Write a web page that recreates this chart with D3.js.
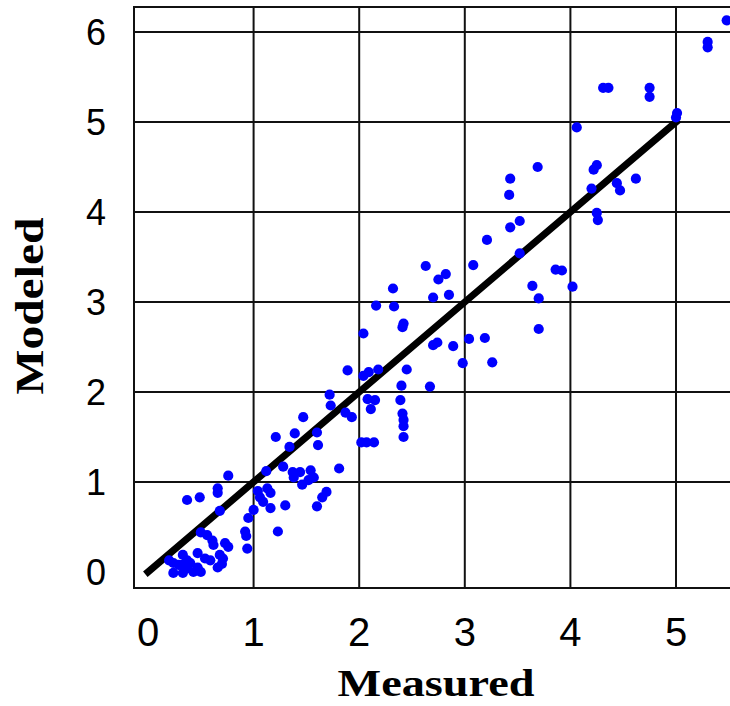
<!DOCTYPE html>
<html><head><meta charset="utf-8">
<script src="https://cdn.jsdelivr.net/npm/d3@7"></script>
<style>html,body{margin:0;padding:0;background:#fff;overflow:hidden}</style>
</head><body>
<svg id="chart" width="730" height="706"></svg>
<script>
// ---- data ----
const measured = [5.48,5.30,5.30,4.31,4.36,4.75,4.75,5.01,5.00,4.06,
3.69,3.43,3.42,4.25,4.22,4.20,4.44,4.47,4.62,4.25,
4.26,3.52,3.43,3.21,3.52,2.63,3.08,2.82,2.75,2.70,
2.85,3.86,3.92,3.64,4.02,3.70,3.70,2.70,2.74,2.89,
3.04,3.19,2.98,3.26,2.67,
2.32,2.16,2.33,2.42,2.41,2.04,1.89,2.04,2.09,2.18,
2.45,2.40,1.72,2.08,2.15,1.73,2.39,2.11,1.87,1.93,
2.41,2.42,2.42,2.42,1.47,1.39,1.60,1.34,1.61,2.02,
2.07,2.14,1.28,1.81,1.21,
1.37,1.38,1.44,1.54,1.57,1.52,1.46,1.12,1.69,1.65,1.60,
0.76,0.66,0.66,0.37,0.49,0.68,1.04,1.13,1.06,1.16,
1.09,1.16,1.30,1.00,0.95,1.23,0.92,0.93,0.94,0.50,
0.56,0.61,0.62,0.73,0.76,0.68,0.71,0.54,0.59,0.47,
0.33,0.20,0.24,0.29,0.33,0.37,0.40,0.43,0.33,0.24,
0.47,0.50,0.37,0.66,0.70];
const modeled = [6.13,5.89,5.83,5.38,5.38,5.38,5.28,5.10,5.05,4.94,
4.50,4.37,4.19,4.52,4.47,4.26,4.32,4.24,4.37,3.99,
3.91,3.90,3.83,3.69,3.54,3.40,3.41,3.31,3.25,3.05,
3.08,3.36,3.35,3.18,3.17,3.04,2.70,2.52,2.55,2.51,
2.59,2.60,2.32,2.33,2.06,
3.15,2.96,2.95,2.76,2.72,2.65,2.24,2.18,2.22,2.25,
2.25,2.07,1.97,1.92,1.91,1.85,1.91,1.81,1.77,1.72,
1.76,1.69,1.62,1.50,1.72,1.54,1.55,1.39,1.41,1.44,
1.44,1.44,1.17,1.15,1.50,
1.11,1.05,1.11,1.13,1.05,1.02,0.97,1.12,0.89,0.83,0.73,
1.07,0.93,0.88,0.80,0.83,0.68,0.90,0.93,0.83,0.88,
0.78,0.71,0.74,0.69,0.60,0.45,0.45,0.40,0.26,0.44,
0.41,0.35,0.30,0.32,0.28,0.19,0.15,0.15,0.13,0.21,
0.19,0.13,0.10,0.08,0.08,0.04,0.10,0.00,-0.01,-0.01,
0.05,0.00,0.13,0.05,0.09];
const xTickValues = [0,1,2,3,4,5];
const yTickValues = [0,1,2,3,4,5,6];
const xGridValues = [1,2,3,4,5];
const yGridValues = [1,2,3,4,5,6];
const fitStart = [0,0];
const fitEnd = [5,5];
const xTitle = "Measured";
const yTitle = "Modeled";

// ---- layout ----
const svg = d3.select("#chart");
const frame = {left:134, top:7, right:760, bottom:588};
const x = d3.scaleLinear().domain([0,5]).range([148,676]);
const y = d3.scaleLinear().domain([0,6]).range([572,32]);

svg.append("rect").attr("width",730).attr("height",706).attr("fill","#fff");

svg.append("defs").append("clipPath").attr("id","clip")
  .append("rect").attr("x",frame.left).attr("y",frame.top)
  .attr("width",frame.right-frame.left).attr("height",frame.bottom-frame.top);

const plot = svg.append("g").attr("clip-path","url(#clip)");

// grid
plot.selectAll("line.vg").data(xGridValues).join("line")
  .attr("x1",d=>x(d)).attr("x2",d=>x(d))
  .attr("y1",frame.top).attr("y2",frame.bottom)
  .attr("stroke","#111").attr("stroke-width",2);
plot.selectAll("line.hg").data(yGridValues).join("line")
  .attr("y1",d=>y(d)).attr("y2",d=>y(d))
  .attr("x1",frame.left).attr("x2",frame.right)
  .attr("stroke","#111").attr("stroke-width",2);

// fit line
plot.append("line")
  .attr("x1",x(fitStart[0])).attr("y1",y(fitStart[1]))
  .attr("x2",x(fitEnd[0])).attr("y2",y(fitEnd[1]))
  .attr("stroke","#000").attr("stroke-width",7).attr("stroke-linecap","square");

// points
const pts = measured.map((m,i)=>({m, v:modeled[i]}));
plot.selectAll("circle").data(pts).join("circle")
  .attr("cx",d=>x(d.m)).attr("cy",d=>y(d.v)).attr("r",5.1)
  .attr("fill","#0000ff");

// frame
svg.append("rect").attr("x",frame.left).attr("y",frame.top)
  .attr("width",frame.right-frame.left).attr("height",frame.bottom-frame.top)
  .attr("fill","none").attr("stroke","#111").attr("stroke-width",2);

// tick labels
svg.selectAll("text.xt").data(xTickValues).join("text")
  .attr("x",d=>x(d)).attr("y",646)
  .attr("text-anchor","middle")
  .attr("font-family","'Liberation Sans', Arial, sans-serif")
  .attr("font-size",40).attr("fill","#000")
  .text(d=>d);
svg.selectAll("text.yt").data(yTickValues).join("text")
  .attr("x",106).attr("y",d=>y(d)).attr("dy","0.36em")
  .attr("text-anchor","end")
  .attr("font-family","'Liberation Sans', Arial, sans-serif")
  .attr("font-size",36).attr("fill","#000")
  .text(d=>d);

// axis titles
svg.append("text")
  .attr("x",436).attr("y",696).attr("text-anchor","middle")
  .attr("font-family","'Liberation Serif', 'Times New Roman', serif")
  .attr("font-weight","bold").attr("font-size",38)
  .attr("textLength",197).attr("lengthAdjust","spacingAndGlyphs")
  .text(xTitle);
svg.append("text")
  .attr("transform","translate(43,306) rotate(-90)")
  .attr("text-anchor","middle")
  .attr("font-family","'Liberation Serif', 'Times New Roman', serif")
  .attr("font-weight","bold").attr("font-size",40)
  .attr("textLength",177).attr("lengthAdjust","spacingAndGlyphs")
  .text(yTitle);
</script>
</body></html>
